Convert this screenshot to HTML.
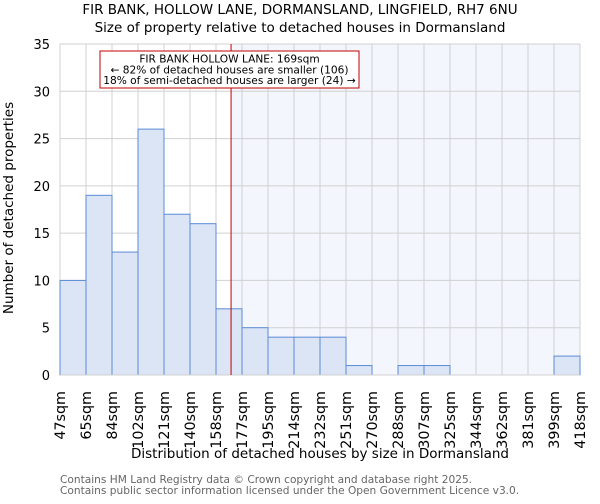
<!DOCTYPE html>
<html><head><meta charset="utf-8"><style>
body{margin:0;background:#fff;font-family:"DejaVu Sans","Liberation Sans",sans-serif}
</style></head><body>
<svg id="chart" width="600" height="500" xmlns="http://www.w3.org/2000/svg" font-family="DejaVu Sans, Liberation Sans, sans-serif">
<text x="300" y="14" text-anchor="middle" font-size="13.5">FIR BANK, HOLLOW LANE, DORMANSLAND, LINGFIELD, RH7 6NU</text>
<text x="300" y="32" text-anchor="middle" font-size="13.5">Size of property relative to detached houses in Dormansland</text>
<g id="grid"></g><g id="bars"></g><g id="axes"></g>
<text x="320" y="458" text-anchor="middle" font-size="13.5">Distribution of detached houses by size in Dormansland</text>
<text transform="translate(13,208) rotate(-90)" text-anchor="middle" font-size="13.5">Number of detached properties</text>
<text x="60" y="483" font-size="10.6" fill="#666">Contains HM Land Registry data © Crown copyright and database right 2025.</text>
<text x="60" y="494" font-size="10.6" fill="#666">Contains public sector information licensed under the Open Government Licence v3.0.</text>
</svg>
<script>
const binLabels=["47sqm","65sqm","84sqm","102sqm","121sqm","140sqm","158sqm","177sqm","195sqm","214sqm","232sqm","251sqm","270sqm","288sqm","307sqm","325sqm","344sqm","362sqm","381sqm","399sqm","418sqm"];
const binEdges=[47,65,84,102,121,140,158,177,195,214,232,251,270,288,307,325,344,362,381,399,418];
const counts=[10,19,13,26,17,16,7,5,4,4,4,1,0,1,1,0,0,0,0,2];
const yTicks=[0,5,10,15,20,25,30,35];
const subjectSize=169;
const NS="http://www.w3.org/2000/svg";
const X0=60,X1=580,Y0=375,Y1=44,YMAX=35;
const n=counts.length;
function xi(i){return X0+(X1-X0)*i/n;}
function xv(v){for(let i=0;i<binEdges.length-1;i++){if(v<=binEdges[i+1]){return xi(i)+(v-binEdges[i])/(binEdges[i+1]-binEdges[i])*(X1-X0)/n;}}return X1;}
function y(v){return Y0-(Y0-Y1)*v/YMAX;}
function mk(tag,attrs,parent){const e=document.createElementNS(NS,tag);for(const k in attrs)e.setAttribute(k,attrs[k]);parent.appendChild(e);return e;}
const grid=document.getElementById('grid'),bars=document.getElementById('bars'),axes=document.getElementById('axes');
const mx=xv(subjectSize);
const shade=mk('rect',{x:mx,y:Y1,width:X1-mx,height:Y0-Y1,fill:'#f3f6fd'},grid);


for(let i=0;i<=n;i++){const l=mk('line',{x1:xi(i),x2:xi(i),y1:Y1,y2:Y0,stroke:'#d0d0d0','stroke-width':1},grid);

}
yTicks.forEach(t=>{const l=mk('line',{x1:X0,x2:X1,y1:y(t),y2:y(t),stroke:'#d0d0d0','stroke-width':1},grid);


const tx=mk('text',{x:X0-10,y:y(t)+5,'text-anchor':'end','font-size':13},axes);tx.textContent=t;

});
counts.forEach((c,i)=>{if(c<=0)return;const r=mk('rect',{x:xi(i),y:y(c),width:xi(i+1)-xi(i),height:Y0-y(c),fill:'#dbe5f5',stroke:'#5b8bd6','stroke-width':1},bars);

});
const base=mk('line',{x1:X0,x2:X1,y1:Y0,y2:Y0,stroke:'#d0d0d0','stroke-width':1},axes);


binLabels.forEach((lb,i)=>{const t=mk('text',{transform:`translate(${xi(i)+5},${Y0+16}) rotate(-90)`,'text-anchor':'end','font-size':14.3},axes);t.textContent=lb;

});
const ml=mk('line',{x1:mx,x2:mx,y1:Y1,y2:Y0,stroke:'#c00000','stroke-width':1},axes);


const box=mk('rect',{x:100,y:51,width:259,height:37,fill:'#fff',stroke:'#c00000','stroke-width':1},axes);


["FIR BANK HOLLOW LANE: 169sqm","← 82% of detached houses are smaller (106)","18% of semi-detached houses are larger (24) →"].forEach((s,k)=>{const t=mk('text',{x:229.5,y:62.5+k*10.8,'text-anchor':'middle','font-size':10.6},axes);t.textContent=s;

});
</script>
</body></html>
